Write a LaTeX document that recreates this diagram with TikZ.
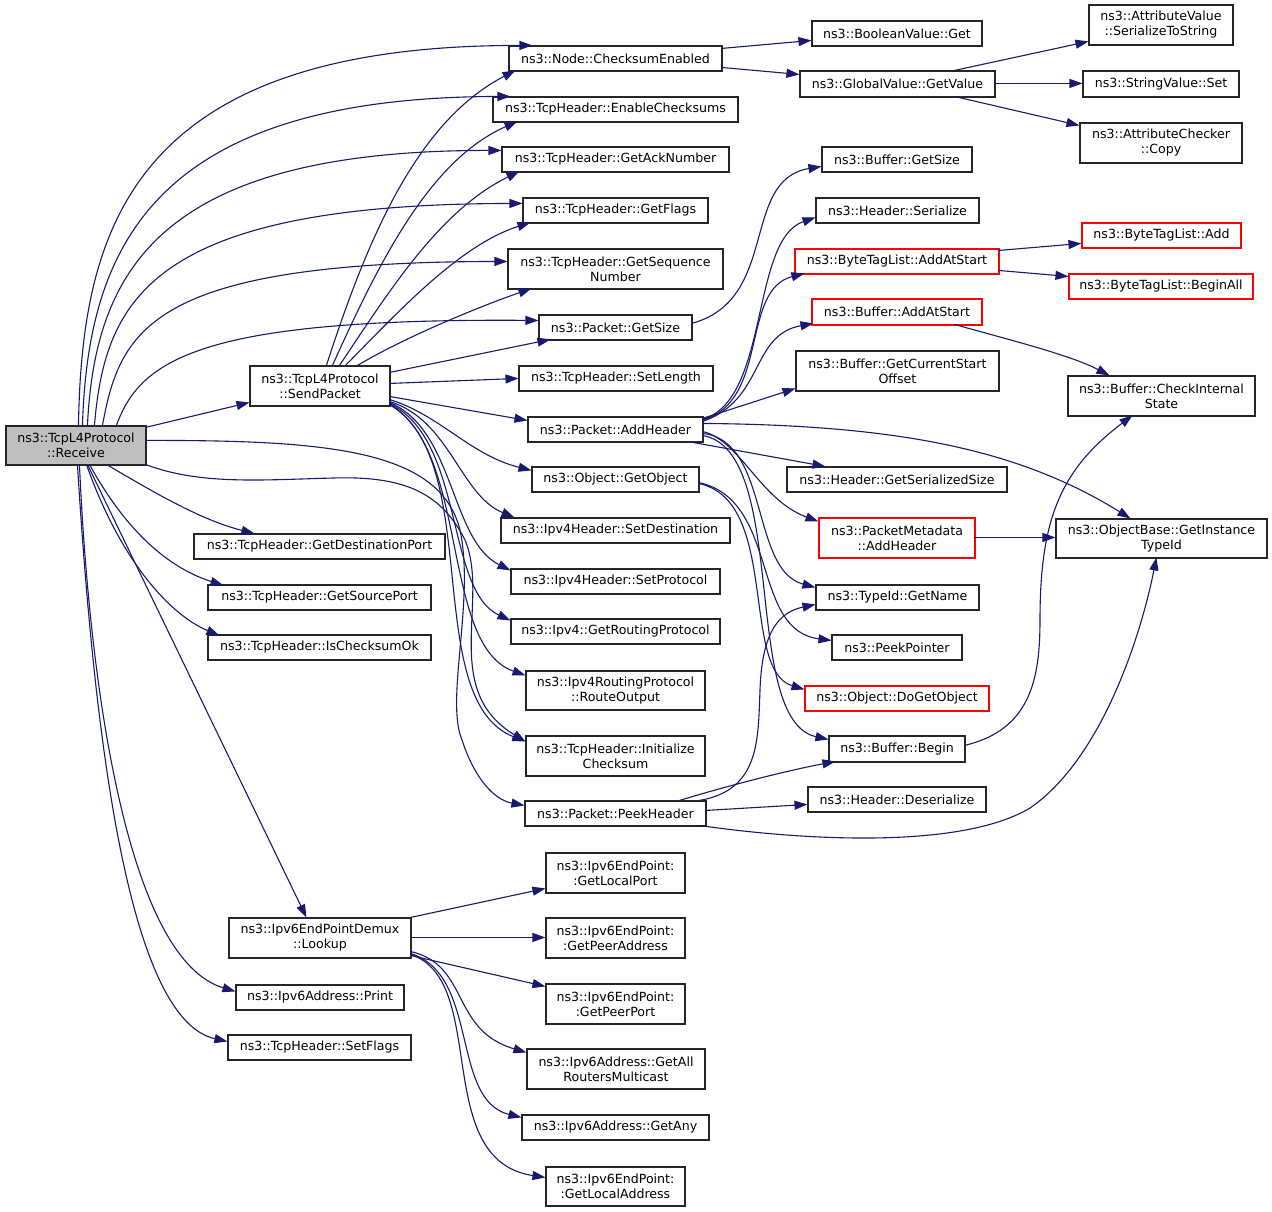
\documentclass[tikz,border=0pt]{standalone}
\usepackage{fontspec}
\setmainfont{DejaVu Sans}
\usetikzlibrary{arrows.meta,calc}
\definecolor{edgeblue}{HTML}{191970}
\definecolor{nodegray}{HTML}{BFBFBF}
\tikzset{
  nbox/.style={draw=black!85, line width=1.1pt, fill=white, inner sep=0pt, align=center, font=\fontsize{12.6}{15}\selectfont},
  redbox/.style={nbox, draw=red},
  mainbox/.style={nbox, fill=nodegray},
  edge/.style={draw=edgeblue, line width=1.1pt, -{Triangle[length=13pt,width=9pt]}},
}
\newcommand\mybox[7]{\node[#6, minimum width={#4-#2}, minimum height={#5-#3}] (#1) at ({(#2+#4)/2},{(#3+#5)/2}) {#7};}
\begin{document}
\begin{tikzpicture}[x=1pt,y=-1pt]
\useasboundingbox[fill=white] (0,0) rectangle (1272,1212);
% nodes
\mybox{rcv}{6}{426}{146}{465}{mainbox}{ns3::TcpL4Protocol\\::Receive}
\mybox{snd}{250}{366}{390}{406}{nbox}{ns3::TcpL4Protocol\\::SendPacket}
\mybox{cke}{509}{46}{722}{71}{nbox}{ns3::Node::ChecksumEnabled}
\mybox{ecs}{493}{97}{738}{122}{nbox}{ns3::TcpHeader::EnableChecksums}
\mybox{gan}{502}{147}{729}{172}{nbox}{ns3::TcpHeader::GetAckNumber}
\mybox{gfl}{523}{198}{708}{223}{nbox}{ns3::TcpHeader::GetFlags}
\mybox{gsn}{508}{249}{723}{289}{nbox}{ns3::TcpHeader::GetSequence\\Number}
\mybox{pgs}{539}{315}{692}{340}{nbox}{ns3::Packet::GetSize}
\mybox{sln}{519}{366}{713}{391}{nbox}{ns3::TcpHeader::SetLength}
\mybox{pah}{528}{417}{703}{442}{nbox}{ns3::Packet::AddHeader}
\mybox{ogo}{532}{467}{699}{492}{nbox}{ns3::Object::GetObject}
\mybox{sdst}{501}{518}{730}{543}{nbox}{ns3::Ipv4Header::SetDestination}
\mybox{spr}{511}{569}{720}{594}{nbox}{ns3::Ipv4Header::SetProtocol}
\mybox{grp}{511}{619}{720}{644}{nbox}{ns3::Ipv4::GetRoutingProtocol}
\mybox{rto}{526}{671}{705}{710}{nbox}{ns3::Ipv4RoutingProtocol\\::RouteOutput}
\mybox{ick}{526}{736}{705}{776}{nbox}{ns3::TcpHeader::Initialize\\Checksum}
\mybox{pph}{525}{801}{706}{826}{nbox}{ns3::Packet::PeekHeader}
\mybox{glp}{546}{853}{685}{893}{nbox}{ns3::Ipv6EndPoint:\\:GetLocalPort}
\mybox{gpa}{546}{918}{685}{958}{nbox}{ns3::Ipv6EndPoint:\\:GetPeerAddress}
\mybox{gpp}{546}{984}{685}{1024}{nbox}{ns3::Ipv6EndPoint:\\:GetPeerPort}
\mybox{gar}{527}{1049}{705}{1089}{nbox}{ns3::Ipv6Address::GetAll\\RoutersMulticast}
\mybox{gany}{522}{1115}{709}{1140}{nbox}{ns3::Ipv6Address::GetAny}
\mybox{gla}{546}{1167}{685}{1206}{nbox}{ns3::Ipv6EndPoint:\\:GetLocalAddress}
\mybox{lku}{229}{918}{411}{958}{nbox}{ns3::Ipv6EndPointDemux\\::Lookup}
\mybox{prt}{236}{985}{404}{1010}{nbox}{ns3::Ipv6Address::Print}
\mybox{sfl}{228}{1035}{411}{1060}{nbox}{ns3::TcpHeader::SetFlags}
\mybox{gdp}{194}{534}{445}{559}{nbox}{ns3::TcpHeader::GetDestinationPort}
\mybox{gsp}{208}{585}{431}{610}{nbox}{ns3::TcpHeader::GetSourcePort}
\mybox{ico}{208}{635}{431}{660}{nbox}{ns3::TcpHeader::IsChecksumOk}
\mybox{bvg}{812}{21}{982}{46}{nbox}{ns3::BooleanValue::Get}
\mybox{gvv}{800}{71}{995}{97}{nbox}{ns3::GlobalValue::GetValue}
\mybox{avs}{1089}{5}{1233}{45}{nbox}{ns3::AttributeValue\\::SerializeToString}
\mybox{svs}{1083}{71}{1239}{97}{nbox}{ns3::StringValue::Set}
\mybox{acc}{1080}{123}{1242}{163}{nbox}{ns3::AttributeChecker\\::Copy}
\mybox{bgs}{822}{147}{972}{172}{nbox}{ns3::Buffer::GetSize}
\mybox{hsr}{816}{198}{979}{223}{nbox}{ns3::Header::Serialize}
\mybox{btas}{795}{249}{999}{274}{redbox}{ns3::ByteTagList::AddAtStart}
\mybox{baas}{812}{299}{982}{325}{redbox}{ns3::Buffer::AddAtStart}
\mybox{bcso}{796}{351}{999}{391}{nbox}{ns3::Buffer::GetCurrentStart\\Offset}
\mybox{bta}{1082}{223}{1241}{248}{redbox}{ns3::ByteTagList::Add}
\mybox{btb}{1069}{274}{1253}{299}{redbox}{ns3::ByteTagList::BeginAll}
\mybox{bcis}{1068}{376}{1255}{416}{nbox}{ns3::Buffer::CheckInternal\\State}
\mybox{hgs}{787}{467}{1007}{492}{nbox}{ns3::Header::GetSerializedSize}
\mybox{pmah}{819}{518}{975}{558}{redbox}{ns3::PacketMetadata\\::AddHeader}
\mybox{tgn}{816}{585}{979}{610}{nbox}{ns3::TypeId::GetName}
\mybox{ppt}{832}{635}{962}{660}{nbox}{ns3::PeekPointer}
\mybox{dgo}{805}{686}{989}{711}{redbox}{ns3::Object::DoGetObject}
\mybox{bbg}{829}{736}{965}{762}{nbox}{ns3::Buffer::Begin}
\mybox{hds}{808}{787}{986}{812}{nbox}{ns3::Header::Deserialize}
\mybox{obt}{1056}{519}{1267}{558}{nbox}{ns3::ObjectBase::GetInstance\\TypeId}
% edges from Receive
\draw[edge] ($(rcv.north west)+(73,0)$) .. controls (82,230) and (130,45) .. ($(cke.north west)+(24,0)$);
\draw[edge] ($(rcv.north west)+(77,0)$) .. controls (88,250) and (150,97) .. ($(ecs.north west)+(18,0)$);
\draw[edge] ($(rcv.north west)+(82,0)$) .. controls (95,270) and (160,150) .. ($(gan.north west)+(0,4)$);
\draw[edge] ($(rcv.north west)+(89,0)$) .. controls (105,300) and (150,204) .. ($(gfl.north west)+(0,6)$);
\draw[edge] ($(rcv.north west)+(97,0)$) .. controls (120,330) and (150,262) .. ($(gsn.north west)+(0,13)$);
\draw[edge] ($(rcv.north west)+(111,0)$) .. controls (140,360) and (200,318) .. ($(pgs.north west)+(0,6)$);
\draw[edge] ($(rcv.north west)+(140,2)$) -- ($(snd.north west)+(0,37)$);
\draw[edge] ($(rcv.north west)+(140,15)$) .. controls (330,440) and (440,450) .. (460,530) .. controls (475,600) and (445,700) .. (462,740) .. controls (475,780) and (495,800) .. ($(pph.north west)+(0,5)$);
\draw[edge] ($(rcv.north west)+(140,39)$) .. controls (200,485) and (260,480) .. (333,478) .. controls (400,476) and (440,490) .. (465,540) .. controls (490,600) and (440,690) .. ($(ick.north west)+(0,6)$);
\draw[edge] ($(rcv.north west)+(101,39)$) .. controls (150,490) and (200,520) .. ($(gdp.north west)+(61,0)$);
\draw[edge] ($(rcv.north west)+(84,39)$) .. controls (120,520) and (160,565) .. ($(gsp.north west)+(16,1)$);
\draw[edge] ($(rcv.north west)+(81,39)$) .. controls (120,560) and (170,615) .. ($(ico.north west)+(12,1)$);
\draw[edge] ($(rcv.north west)+(82,39)$) -- ($(lku.north west)+(78,0)$);
\draw[edge] ($(rcv.north west)+(74,39)$) .. controls (90,700) and (130,960) .. ($(prt.north west)+(0,7)$);
\draw[edge] ($(rcv.north west)+(72,39)$) .. controls (95,750) and (130,1020) .. ($(sfl.north west)+(0,7)$);
% edges from SendPacket
\draw[edge] ($(snd.north west)+(77,0)$) .. controls (370,230) and (420,120) .. ($(cke.north west)+(7,25)$);
\draw[edge] ($(snd.north west)+(83,0)$) .. controls (380,260) and (430,160) .. ($(ecs.north west)+(25,25)$);
\draw[edge] ($(snd.north west)+(90,0)$) .. controls (390,290) and (440,210) .. ($(gan.north west)+(18,25)$);
\draw[edge] ($(snd.north west)+(96,0)$) .. controls (400,310) and (460,245) .. ($(gfl.north west)+(8,25)$);
\draw[edge] ($(snd.north west)+(108,0)$) .. controls (400,340) and (470,310) .. ($(gsn.north west)+(24,40)$);
\draw[edge] ($(snd.north west)+(140,7)$) -- ($(pgs.north west)+(12,25)$);
\draw[edge] ($(snd.north west)+(140,18)$) -- ($(sln.north west)+(0,13)$);
\draw[edge] ($(snd.north west)+(140,31)$) -- ($(pah.north west)+(0,4)$);
\draw[edge] ($(snd.north west)+(140,34)$) .. controls (440,415) and (470,455) .. ($(ogo.north west)+(0,4)$);
\draw[edge] ($(snd.north west)+(140,36)$) .. controls (450,420) and (460,495) .. ($(sdst.north west)+(14,0)$);
\draw[edge] ($(snd.north west)+(140,37)$) .. controls (455,430) and (450,540) .. ($(spr.north west)+(0,2)$);
\draw[edge] ($(snd.north west)+(140,38)$) .. controls (465,440) and (445,590) .. ($(grp.north west)+(0,2)$);
\draw[edge] ($(snd.north west)+(140,39)$) .. controls (470,450) and (440,645) .. ($(rto.north west)+(0,5)$);
\draw[edge] ($(snd.north west)+(140,39)$) .. controls (485,460) and (420,700) .. ($(ick.north west)+(0,6)$);
% Packet::GetSize
\draw[edge] ($(pgs.north west)+(153,9)$) .. controls (780,300) and (740,180) .. ($(bgs.north west)+(0,20)$);
% Packet::AddHeader
\draw[edge] ($(pah.north west)+(175,3)$) .. controls (770,400) and (750,240) .. ($(hsr.north west)+(0,20)$);
\draw[edge] ($(pah.north west)+(175,4)$) .. controls (770,400) and (740,290) .. ($(btas.north west)+(10,25)$);
\draw[edge] ($(pah.north west)+(175,5)$) .. controls (765,400) and (750,335) .. ($(baas.north west)+(2,25)$);
\draw[edge] ($(pah.north west)+(175,2)$) -- ($(bcso.north west)+(0,38)$);
\draw[edge] ($(pah.north west)+(175,7)$) .. controls (900,425) and (1020,450) .. ($(obt.north west)+(75,0)$);
\draw[edge] ($(pah.north west)+(160,25)$) -- ($(hgs.north west)+(39,0)$);
\draw[edge] ($(pah.north west)+(175,15)$) .. controls (740,440) and (760,500) .. ($(pmah.north west)+(0,4)$);
\draw[edge] ($(pah.north west)+(175,17)$) .. controls (770,440) and (750,570) .. ($(tgn.north west)+(0,3)$);
\draw[edge] ($(pah.north west)+(175,19)$) .. controls (790,450) and (740,720) .. ($(bbg.north west)+(0,4)$);
% Object::GetObject
\draw[edge] ($(ogo.north west)+(167,16)$) .. controls (780,500) and (750,630) .. ($(ppt.north west)+(0,6)$);
\draw[edge] ($(ogo.north west)+(167,17)$) .. controls (780,500) and (740,670) .. ($(dgo.north west)+(0,4)$);
% Packet::PeekHeader
\draw[edge] ($(pph.north west)+(175,0)$) .. controls (760,790) and (758,740) .. (760,690) .. controls (762,630) and (780,612) .. ($(tgn.north west)+(0,20)$);
\draw[edge] ($(pph.north west)+(155,0)$) .. controls (730,785) and (790,770) .. ($(bbg.north west)+(7,26)$);
\draw[edge] ($(pph.north west)+(181,10)$) -- ($(hds.north west)+(0,18)$);
\draw[edge] ($(pph.north west)+(175,25)$) .. controls (800,840) and (960,850) .. (1030,808) .. controls (1100,760) and (1140,640) .. ($(obt.north west)+(101,39)$);
% right side
\draw[edge] ($(cke.north west)+(213,3)$) -- ($(bvg.north west)+(0,20)$);
\draw[edge] ($(cke.north west)+(213,22)$) -- ($(gvv.north west)+(0,4)$);
\draw[edge] ($(gvv.north west)+(155,0)$) -- ($(avs.north west)+(0,37)$);
\draw[edge] ($(gvv.north west)+(195,13)$) -- ($(svs.north west)+(0,13)$);
\draw[edge] ($(gvv.north west)+(155,26)$) -- ($(acc.north west)+(0,3)$);
\draw[edge] ($(btas.north west)+(204,2)$) -- ($(bta.north west)+(0,21)$);
\draw[edge] ($(btas.north west)+(204,22)$) -- ($(btb.north west)+(0,3)$);
\draw[edge] ($(baas.north west)+(143,26)$) .. controls (1010,340) and (1070,355) .. ($(bcis.north west)+(42,0)$);
\draw[edge] ($(bbg.north west)+(136,10)$) .. controls (1030,730) and (1040,680) .. (1040,620) .. controls (1040,520) and (1060,470) .. ($(bcis.north west)+(65,40)$);
\draw[edge] ($(pmah.north west)+(156,20)$) -- ($(obt.north west)+(0,19)$);
% Lookup
\draw[edge] ($(lku.north west)+(182,0)$) -- ($(glp.north west)+(0,36)$);
\draw[edge] ($(lku.north west)+(182,20)$) -- ($(gpa.north west)+(0,20)$);
\draw[edge] ($(lku.north west)+(182,38)$) -- ($(gpp.north west)+(0,3)$);
\draw[edge] ($(lku.north west)+(182,34)$) .. controls (470,965) and (450,1030) .. ($(gar.north west)+(0,4)$);
\draw[edge] ($(lku.north west)+(182,36)$) .. controls (480,975) and (450,1100) .. ($(gany.north west)+(0,3)$);
\draw[edge] ($(lku.north west)+(182,37)$) .. controls (490,980) and (430,1160) .. ($(gla.north west)+(0,11)$);
\end{tikzpicture}
\end{document}
